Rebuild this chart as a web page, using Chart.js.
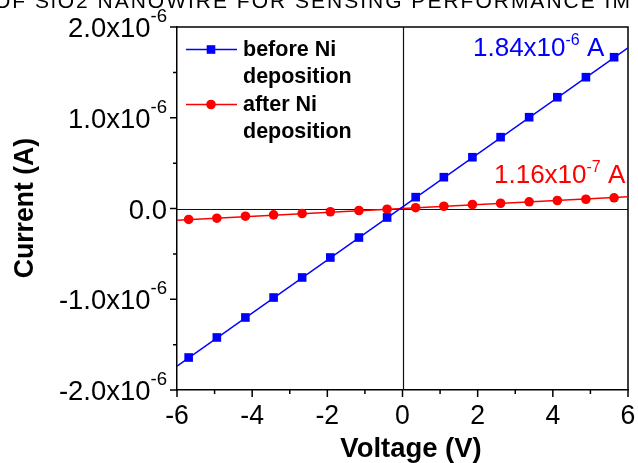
<!DOCTYPE html>
<html><head><meta charset="utf-8">
<script src="https://cdn.jsdelivr.net/npm/chart.js@4/dist/chart.umd.min.js"></script>
<style>html,body{margin:0;padding:0;background:#fff;overflow:hidden}#wrap{width:638px;height:463px;position:relative}</style>
</head><body><div id="wrap"><canvas id="c" width="638" height="463"></canvas></div>
<script>
// ---- data ----
const voltage = [-5.69,-4.94,-4.18,-3.43,-2.67,-1.92,-1.16,-0.41,0.35,1.10,1.86,2.61,3.37,4.12,4.88,5.63];
const currentBefore = [-1.642e-6,-1.421e-6,-1.201e-6,-0.981e-6,-0.760e-6,-0.540e-6,-0.320e-6,-0.099e-6,0.125e-6,0.345e-6,0.565e-6,0.786e-6,1.006e-6,1.226e-6,1.447e-6,1.667e-6];
const currentAfter = [-0.121e-6,-0.107e-6,-0.085e-6,-0.070e-6,-0.055e-6,-0.036e-6,-0.022e-6,-0.008e-6,0.009e-6,0.025e-6,0.044e-6,0.058e-6,0.074e-6,0.088e-6,0.102e-6,0.118e-6];
const fitVoltage = [-6, 6];
const fitBefore = [-1.737e-6, 1.771e-6];
const fitAfter = [-0.129e-6, 0.129e-6];
const xTickValues = [-6,-4,-2,0,2,4,6];
const xTickLabels = ['-6','-4','-2','0','2','4','6'];
const xMinorTicks = [-5,-3,-1,1,3,5];
const yTickValues = [-2e-6,-1e-6,0,1e-6,2e-6];
const yTickLabels = [['-2.0x10','-6'],['-1.0x10','-6'],['0.0',''],['1.0x10','-6'],['2.0x10','-6']];
const yMinorTicks = [-1.5e-6,-0.5e-6,0.5e-6,1.5e-6];
const seriesNames = [['before Ni','deposition'],['after Ni','deposition']];
const annotBefore = ['1.84x10','-6',' A'];
const annotAfter = ['1.16x10','-7',' A'];
const xTitle = 'Voltage (V)';
const yTitle = 'Current (A)';
const topCaption = 'OF SiO2 NANOWIRE FOR SENSING PERFORMANCE IM';

const BLUE = '#0000ff', RED = '#ff0000';
const FONT = '"Liberation Sans", Arial, sans-serif';

function txt(ctx, s, x, y, font, color, align, sx) {
  ctx.save();
  ctx.font = font; ctx.fillStyle = color; ctx.textBaseline = 'alphabetic'; ctx.textAlign = align || 'left';
  ctx.translate(x, y); ctx.scale(sx || 1, 1);
  ctx.fillText(s, 0, 0);
  ctx.restore();
}
function tw(ctx, s, font, sx) { ctx.save(); ctx.font = font; const w = ctx.measureText(s).width * (sx || 1); ctx.restore(); return w; }

const decor = {
  id: 'decor',
  beforeDatasetsDraw(chart) {
    const {ctx, chartArea: a, scales: {x, y}} = chart;
    ctx.save();
    ctx.strokeStyle = '#111'; ctx.lineWidth = 1.2;
    const x0 = Math.round(x.getPixelForValue(0)) + 0.5;
    const y0 = Math.round(y.getPixelForValue(0)) + 0.5;
    ctx.beginPath();
    ctx.moveTo(x0, a.top); ctx.lineTo(x0, a.bottom);
    ctx.moveTo(a.left, y0); ctx.lineTo(a.right, y0);
    ctx.stroke();
    ctx.lineWidth = 1.5; ctx.strokeStyle = '#000';
    ctx.beginPath();
    ctx.moveTo(a.left, a.top); ctx.lineTo(a.right, a.top); ctx.lineTo(a.right, a.bottom);
    ctx.stroke();
    ctx.restore();
  },
  afterDraw(chart) {
    const {ctx, chartArea: a, scales: {x, y}} = chart;
    ctx.save();
    ctx.strokeStyle = '#000'; ctx.lineWidth = 1.5;
    ctx.beginPath();
    xTickValues.forEach(v => { const p = x.getPixelForValue(v); ctx.moveTo(p, a.bottom); ctx.lineTo(p, a.bottom + 7); });
    xMinorTicks.forEach(v => { const p = x.getPixelForValue(v); ctx.moveTo(p, a.bottom); ctx.lineTo(p, a.bottom + 4); });
    yTickValues.forEach(v => { const p = y.getPixelForValue(v); ctx.moveTo(a.left, p); ctx.lineTo(a.left - 7, p); });
    yMinorTicks.forEach(v => { const p = y.getPixelForValue(v); ctx.moveTo(a.left, p); ctx.lineTo(a.left - 4, p); });
    ctx.stroke();
    ctx.restore();

    // x tick labels
    const xf = '28px ' + FONT;
    xTickValues.forEach((v, i) => txt(ctx, xTickLabels[i], x.getPixelForValue(v), a.bottom + 34, xf, '#000', 'center', 0.95));
    // y tick labels with superscripts
    const yf = '28px ' + FONT, sf = '19px ' + FONT, ysx = 0.98;
    const rightEdge = a.left - 10;
    yTickValues.forEach((v, i) => {
      const p = y.getPixelForValue(v);
      const [m, e] = yTickLabels[i];
      const we = e ? tw(ctx, e, sf, ysx) : 0;
      if (e) txt(ctx, e, rightEdge - we, p - 5, sf, '#000', 'left', ysx);
      txt(ctx, m, rightEdge - we, p + 10, yf, '#000', 'right', ysx);
    });
    // axis titles
    const tf = 'bold 28px ' + FONT;
    txt(ctx, xTitle, 411, a.bottom + 66.5, tf, '#000', 'center', 0.98);
    ctx.save();
    ctx.translate(33, 208); ctx.rotate(-Math.PI / 2);
    txt(ctx, yTitle, 0, 0, tf, '#000', 'center', 0.95);
    ctx.restore();

    // legend
    const lf = 'bold 21.5px ' + FONT;
    const legendRows = [{c: BLUE, y: 49.5, style: 'rect'}, {c: RED, y: 104.5, style: 'circle'}];
    legendRows.forEach((r, i) => {
      ctx.save();
      ctx.strokeStyle = r.c; ctx.fillStyle = r.c; ctx.lineWidth = 1.5;
      ctx.beginPath(); ctx.moveTo(186, r.y); ctx.lineTo(237, r.y); ctx.stroke();
      if (r.style === 'rect') ctx.fillRect(211 - 4.3, r.y - 4.3, 8.6, 8.6);
      else { ctx.beginPath(); ctx.arc(211, r.y, 4.8, 0, Math.PI * 2); ctx.fill(); }
      ctx.restore();
      txt(ctx, seriesNames[i][0], 243, r.y + 6.3, lf, '#000', 'left', 1);
      txt(ctx, seriesNames[i][1], 243, r.y + 33.8, lf, '#000', 'left', 1);
    });

    // value annotations
    const af = '26px ' + FONT, asf = '16px ' + FONT;
    function annot(parts, left, base, color) {
      let xx = left;
      txt(ctx, parts[0], xx, base, af, color, 'left', 1); xx += tw(ctx, parts[0], af);
      txt(ctx, parts[1], xx, base - 11, asf, color, 'left', 1); xx += tw(ctx, parts[1], asf);
      txt(ctx, parts[2], xx, base, af, color, 'left', 1);
    }
    annot(annotBefore, 473, 56, BLUE);
    annot(annotAfter, 494, 182.7, RED);

    // clipped caption at the very top
    ctx.save();
    ctx.font = '21px ' + FONT; ctx.fillStyle = '#000'; ctx.textBaseline = 'alphabetic';
    try { ctx.letterSpacing = '2px'; } catch (e) {}
    ctx.fillText(topCaption, -6, 7.5);
    ctx.restore();
  }
};

new Chart(document.getElementById('c'), {
  type: 'scatter',
  data: {
    datasets: [
      { label: 'before fit', data: fitVoltage.map((v, i) => ({x: v, y: fitBefore[i]})), showLine: true, borderColor: BLUE, borderWidth: 1.5, pointRadius: 0 },
      { label: 'after fit', data: fitVoltage.map((v, i) => ({x: v, y: fitAfter[i]})), showLine: true, borderColor: RED, borderWidth: 1.5, pointRadius: 0 },
      { label: 'before Ni deposition', data: voltage.map((v, i) => ({x: v, y: currentBefore[i]})), showLine: false, pointStyle: 'rect', pointRadius: 6.1, backgroundColor: BLUE, borderColor: BLUE, borderWidth: 0 },
      { label: 'after Ni deposition', data: voltage.map((v, i) => ({x: v, y: currentAfter[i]})), showLine: false, pointStyle: 'circle', pointRadius: 4.8, backgroundColor: RED, borderColor: RED, borderWidth: 0 }
    ]
  },
  options: {
    responsive: false, animation: false, devicePixelRatio: 1,
    layout: { padding: { left: 0, right: 10, top: 27, bottom: 0 } },
    plugins: { legend: { display: false }, tooltip: { enabled: false } },
    scales: {
      x: { type: 'linear', min: -6, max: 6, ticks: { display: false }, grid: { display: false, drawTicks: false },
           border: { display: true, color: '#000', width: 1.5 }, afterFit(s) { s.height = 73; } },
      y: { type: 'linear', min: -2e-6, max: 2e-6, ticks: { display: false }, grid: { display: false, drawTicks: false },
           border: { display: true, color: '#000', width: 1.5 }, afterFit(s) { s.width = 177; } }
    }
  },
  plugins: [decor]
});
</script></body></html>
